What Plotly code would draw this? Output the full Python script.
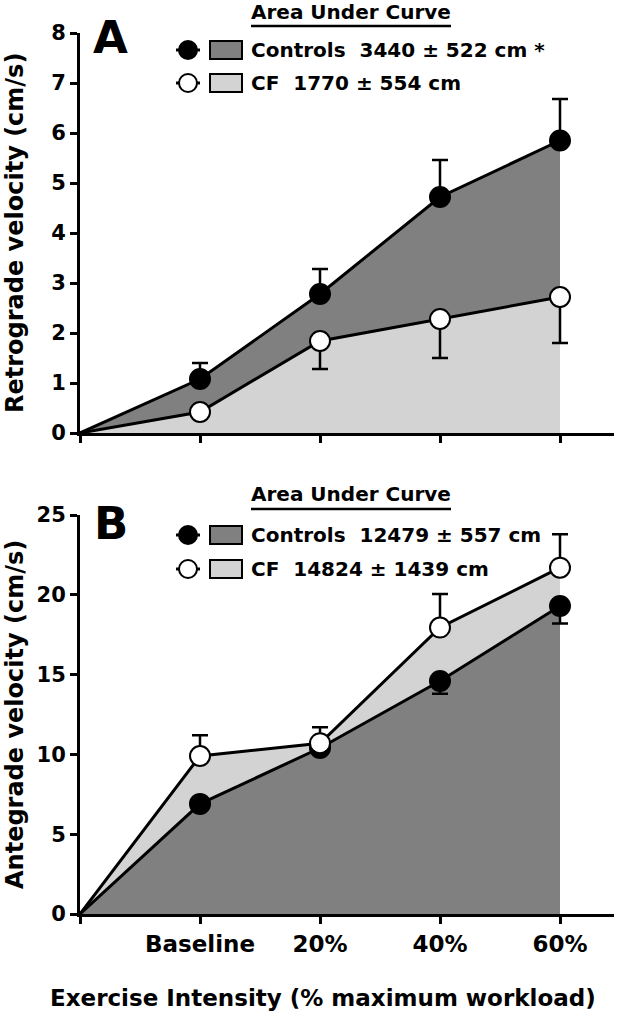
import plotly.graph_objects as go

# ---------------- data ----------------
stages = ["Baseline", "20%", "40%", "60%"]
stage_pos = [1, 2, 3, 4]
tick_text = [""] + stages

# Panel A: retrograde velocity (cm/s)
ctrl_retro = [1.08, 2.78, 4.72, 5.85]
ctrl_retro_err = [0.32, 0.50, 0.74, 0.83]      # shown upward
cf_retro = [0.42, 1.84, 2.28, 2.72]
cf_retro_err = [0.12, 0.56, 0.78, 0.92]        # shown downward

# Panel B: antegrade velocity (cm/s)
ctrl_ante = [6.9, 10.4, 14.6, 19.3]
ctrl_ante_err = [0.2, 0.2, 0.8, 1.1]           # shown downward
cf_ante = [9.9, 10.7, 17.95, 21.7]
cf_ante_err = [1.3, 1.0, 2.1, 2.1]             # shown upward

legend_a = ["Controls  3440 \u00b1 522 cm *", "CF  1770 \u00b1 554 cm"]
legend_b = ["Controls  12479 \u00b1 557 cm", "CF  14824 \u00b1 1439 cm"]

DARK = "#808080"
LIGHT = "#d3d3d3"
FONT = "DejaVu Sans"
W, H = 621, 1020


def px(x):
    return x / W


def py(y):
    return 1 - y / H


xs = [0] + stage_pos

fig = go.Figure()

# ---- Panel A ----
fig.add_trace(go.Scatter(x=xs, y=[0] + ctrl_retro, mode="lines", fill="tozeroy",
                         fillcolor=DARK, line=dict(color="black", width=3),
                         xaxis="x", yaxis="y", showlegend=False, hoverinfo="skip"))
fig.add_trace(go.Scatter(x=xs, y=[0] + cf_retro, mode="lines", fill="tozeroy",
                         fillcolor=LIGHT, line=dict(color="black", width=3),
                         xaxis="x", yaxis="y", showlegend=False, hoverinfo="skip"))
fig.add_trace(go.Scatter(x=stage_pos, y=ctrl_retro, mode="markers",
                         marker=dict(size=20, color="black", line=dict(color="black", width=2)),
                         error_y=dict(type="data", symmetric=False, array=ctrl_retro_err,
                                      arrayminus=[0] * 4, color="black", thickness=2.5, width=8),
                         xaxis="x", yaxis="y", showlegend=False))
fig.add_trace(go.Scatter(x=stage_pos, y=cf_retro, mode="markers",
                         marker=dict(size=20, color="white", line=dict(color="black", width=2)),
                         error_y=dict(type="data", symmetric=False, array=[0] * 4,
                                      arrayminus=cf_retro_err, color="black", thickness=2.5, width=8),
                         xaxis="x", yaxis="y", showlegend=False))

# ---- Panel B ----
fig.add_trace(go.Scatter(x=xs, y=[0] + cf_ante, mode="lines", fill="tozeroy",
                         fillcolor=LIGHT, line=dict(color="black", width=3),
                         xaxis="x2", yaxis="y2", showlegend=False, hoverinfo="skip"))
fig.add_trace(go.Scatter(x=xs, y=[0] + ctrl_ante, mode="lines", fill="tozeroy",
                         fillcolor=DARK, line=dict(color="black", width=3),
                         xaxis="x2", yaxis="y2", showlegend=False, hoverinfo="skip"))
fig.add_trace(go.Scatter(x=stage_pos, y=ctrl_ante, mode="markers",
                         marker=dict(size=20, color="black", line=dict(color="black", width=2)),
                         error_y=dict(type="data", symmetric=False, array=[0] * 4,
                                      arrayminus=ctrl_ante_err, color="black", thickness=2.5, width=8),
                         xaxis="x2", yaxis="y2", showlegend=False))
fig.add_trace(go.Scatter(x=stage_pos, y=cf_ante, mode="markers",
                         marker=dict(size=20, color="white", line=dict(color="black", width=2)),
                         error_y=dict(type="data", symmetric=False, array=cf_ante_err,
                                      arrayminus=[0] * 4, color="black", thickness=2.5, width=8),
                         xaxis="x2", yaxis="y2", showlegend=False))

axis_common = dict(showline=True, linecolor="black", linewidth=3, ticks="outside",
                   ticklen=7, tickwidth=3, tickcolor="black", showgrid=False,
                   zeroline=False, fixedrange=True)

x_dom = [px(80), px(614)]
fig.update_layout(
    width=W, height=H, paper_bgcolor="white", plot_bgcolor="white",
    margin=dict(l=0, r=0, t=0, b=0, autoexpand=False),
    font=dict(family=FONT, color="black", size=20),
    xaxis=dict(domain=x_dom, range=[0, 4.45], tickvals=xs, ticktext=[""] * 5,
               anchor="y", **axis_common),
    yaxis=dict(domain=[py(433), py(33)], range=[0, 8], dtick=1, anchor="x",
               tickfont=dict(size=21, family=FONT, weight="bold"), **axis_common),
    xaxis2=dict(domain=x_dom, range=[0, 4.45], tickvals=xs, ticktext=tick_text,
                anchor="y2", tickfont=dict(size=23, family=FONT, weight="bold"), **axis_common),
    yaxis2=dict(domain=[py(914), py(515)], range=[0, 25], dtick=5, anchor="x2",
                tickfont=dict(size=21, family=FONT, weight="bold"), **axis_common),
)

annotations = []
shapes = []


def note(text, x, y, size, angle=0, xanchor="center"):
    annotations.append(dict(text=text, x=px(x), y=py(y), xref="paper", yref="paper",
                            xanchor=xanchor, yanchor="middle", textangle=angle,
                            showarrow=False, font=dict(size=size, weight="bold")))


# axis titles
note("Retrograde velocity (cm/s)", 15, 233, 24, angle=-90)
note("Antegrade velocity (cm/s)", 15, 715, 24, angle=-90)
note("Exercise Intensity (% maximum workload)", 323, 998, 23)

# panel letters
note("A", 110, 38, 45)
note("B", 111, 523, 45)


def add_legend(title_y, underline_y, row_ys, labels, fills, marker_cols):
    note("Area Under Curve", 351, title_y, 20)
    shapes.append(dict(type="line", xref="paper", yref="paper", x0=px(251), x1=px(451),
                       y0=py(underline_y), y1=py(underline_y), line=dict(color="black", width=2.5)))
    for ry, lab, fc, mc in zip(row_ys, labels, fills, marker_cols):
        shapes.append(dict(type="line", xref="paper", yref="paper", x0=px(176), x1=px(200),
                           y0=py(ry), y1=py(ry), line=dict(color="black", width=3)))
        r = 9
        shapes.append(dict(type="circle", xref="paper", yref="paper", x0=px(188 - r), x1=px(188 + r),
                           y0=py(ry + r), y1=py(ry - r), fillcolor=mc, line=dict(color="black", width=2)))
        shapes.append(dict(type="rect", xref="paper", yref="paper", x0=px(210), x1=px(242),
                           y0=py(ry + 9), y1=py(ry - 9), fillcolor=fc, line=dict(color="black", width=2)))
        note(lab, 249, ry, 20, xanchor="left")


add_legend(12, 26, [50, 83], legend_a, [DARK, LIGHT], ["black", "white"])
add_legend(494, 509, [535, 569], legend_b, [DARK, LIGHT], ["black", "white"])

fig.update_layout(annotations=annotations, shapes=shapes)
fig.write_html("out.html", config={"displayModeBar": False},
               post_script="document.body.style.margin='0';document.body.style.overflow='hidden';")
